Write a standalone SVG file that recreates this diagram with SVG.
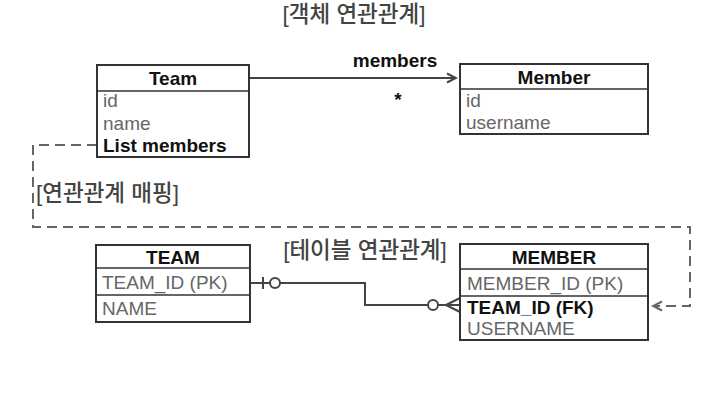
<svg xmlns="http://www.w3.org/2000/svg" width="720" height="408" viewBox="0 0 720 408">
<style>
.box{fill:#fff;stroke:#333;stroke-width:2}
.sep{stroke:#333;stroke-width:1.5}
.hd{font-family:"Liberation Sans",Arial,sans-serif;font-size:19px;font-weight:bold;fill:#111;text-anchor:middle}
.row{font-family:"Liberation Sans",Arial,sans-serif;font-size:19px;fill:#666}
.rowb{font-family:"Liberation Sans",Arial,sans-serif;font-size:19px;font-weight:bold;fill:#111}
.ko{font-family:"Liberation Sans","Noto Sans CJK KR",sans-serif;font-size:22.5px;font-weight:500;fill:#444}
.lbl{font-family:"Liberation Sans",Arial,sans-serif;font-size:19px;font-weight:bold;fill:#111}
.ln{fill:none;stroke:#444;stroke-width:2}
.dash{fill:none;stroke:#666;stroke-width:2;stroke-dasharray:10 6}
</style>
<defs>
<marker id="open" markerWidth="12" markerHeight="12" refX="10" refY="6" orient="auto" markerUnits="userSpaceOnUse">
<path d="M1,1.5 L10,6 L1,10.5" fill="none" stroke="#444" stroke-width="2"/>
</marker>
<marker id="openg" markerWidth="12" markerHeight="12" refX="10" refY="6" orient="auto" markerUnits="userSpaceOnUse">
<path d="M1,1.5 L10,6 L1,10.5" fill="none" stroke="#666" stroke-width="2"/>
</marker>
</defs>
<rect width="720" height="408" fill="#fff"/>
<text class="ko" x="354" y="22" text-anchor="middle">[객체 연관관계]</text>
<text class="ko" x="365" y="258" text-anchor="middle">[테이블 연관관계]</text>
<text class="ko" x="36" y="201">[연관관계 매핑]</text>
<g id="connectors">
<path class="ln" d="M249,78 L456,78" marker-end="url(#open)"/>
<text class="lbl" x="395" y="67" text-anchor="middle">members</text>
<text class="lbl" x="398" y="106" text-anchor="middle">*</text>
<path class="dash" d="M97,145 L33,145 L33,227 L690,227 L690,306 L653,306" marker-end="url(#openg)"/>
<path class="ln" d="M250,283 L365,283 L365,305 L429,305"/>
<line class="ln" x1="263" y1="277" x2="263" y2="289"/>
<circle cx="275" cy="283" r="5" fill="#fff" stroke="#444" stroke-width="2"/>
<circle cx="433" cy="305" r="5" fill="#fff" stroke="#444" stroke-width="2"/>
<path class="ln" d="M438,305 L460,305 M446,305 L460,298 M446,305 L460,312"/>
</g>
<g id="Team">
<rect class="box" x="97" y="65" width="152" height="92"/>
<line class="sep" x1="97" y1="91" x2="249" y2="91"/>
<text class="hd" x="173" y="85">Team</text>
<text class="row" x="103" y="107">id</text>
<text class="row" x="103" y="130">name</text>
<text class="rowb" x="103" y="152">List members</text>
</g>
<g id="Member">
<rect class="box" x="460" y="64" width="188" height="70"/>
<line class="sep" x1="460" y1="89" x2="648" y2="89"/>
<text class="hd" x="554" y="84">Member</text>
<text class="row" x="466" y="107">id</text>
<text class="row" x="466" y="129">username</text>
</g>
<g id="TEAM">
<rect class="box" x="96" y="245" width="154" height="77"/>
<line class="sep" x1="96" y1="268" x2="250" y2="268"/>
<line class="sep" x1="96" y1="295" x2="250" y2="295"/>
<text class="hd" x="173" y="264">TEAM</text>
<text class="row" x="102" y="289">TEAM_ID (PK)</text>
<text class="row" x="102" y="315">NAME</text>
</g>
<g id="MEMBER">
<rect class="box" x="460" y="244" width="188" height="96"/>
<line class="sep" x1="460" y1="269" x2="648" y2="269"/>
<line class="sep" x1="460" y1="296" x2="648" y2="296"/>
<text class="hd" x="554" y="264">MEMBER</text>
<text class="row" x="467" y="290">MEMBER_ID (PK)</text>
<text class="rowb" x="467" y="314">TEAM_ID (FK)</text>
<text class="row" x="467" y="335">USERNAME</text>
</g>
</svg>
